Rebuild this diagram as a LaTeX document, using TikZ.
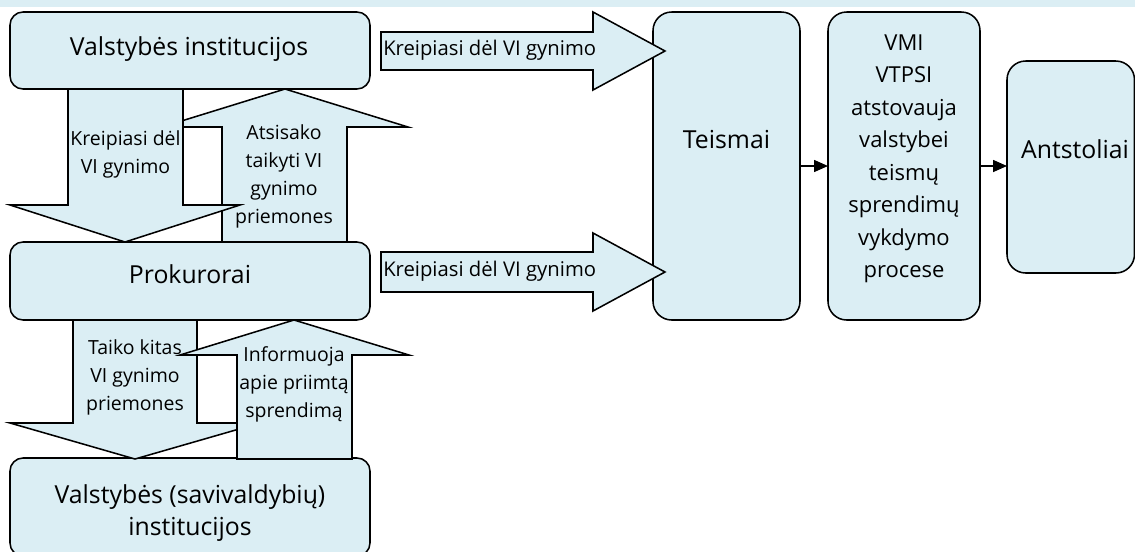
\documentclass[tikz,border=0pt]{standalone}
\usepackage{fontspec}
\setmainfont{Open Sans}
\usetikzlibrary{arrows.meta,fit}
\definecolor{boxblue}{RGB}{219,238,244}
\begin{document}
\begin{tikzpicture}[x=0.75pt,y=-0.75pt,
  box/.style={draw=black, fill=boxblue, line width=1.15pt, rounded corners=9.75pt, inner sep=0pt, outer sep=0pt},
  tallbox/.style={box, rounded corners=14pt},
  blockarrow/.style={draw=black, fill=boxblue, line width=1.15pt, line join=miter},
  bigtext/.style={font=\fontsize{18.6}{24}\selectfont, inner sep=0pt, align=center},
  midtext/.style={font=\fontsize{16.5}{24.4}\selectfont, inner sep=0pt, align=center},
  smalltext/.style={font=\fontsize{14.6}{21}\selectfont, inner sep=0pt, align=center},
  arrowtext/.style={font=\fontsize{15.2}{21}\selectfont, inner sep=0pt},
  conn/.style={line width=1.15pt, -{Triangle[length=10.5pt,width=9pt]}}]
\useasboundingbox (0,0) rectangle (1135,551);
\clip (0,0) rectangle (1135,551);
\fill[boxblue] (0,0) rectangle (1135,7);

% boxes
\node[box, fit={(10,12) (370,89)}] (vi) {};
\node[box, fit={(10,242) (370,320)}] (prok) {};
\node[box, fit={(10,458) (370,556)}] (savi) {};
\node[tallbox, fit={(653,12) (800,320)}] (teismai) {};
\node[tallbox, fit={(828,12) (980,320)}] (vmi) {};
\node[tallbox, fit={(1007,61) (1134.5,273)}] (antst) {};

% block arrows, upper pair
\draw[blockarrow] (285,89) -- (408,127) -- (347,127) -- (347,242) -- (222,242) -- (222,127) -- (162,127) -- cycle;
\draw[blockarrow] (68,89) -- (183,89) -- (183,205) -- (240,205) -- (125,242) -- (10,205) -- (68,205) -- cycle;
% block arrows, lower pair
\draw[blockarrow] (73,320) -- (197,320) -- (197,423) -- (260,423) -- (135,459) -- (10,423) -- (73,423) -- cycle;
\draw[blockarrow] (294,320) -- (409,355) -- (352,355) -- (352,459) -- (237,459) -- (237,355) -- (180,355) -- cycle;
% block arrows to courts
\draw[blockarrow] (381,32) -- (593,32) -- (593,12) -- (665,51) -- (593,90) -- (593,70) -- (381,70) -- cycle;
\draw[blockarrow] (381,252) -- (593,252) -- (593,233) -- (665,272) -- (593,311) -- (593,292) -- (381,292) -- cycle;

% connectors
\draw[conn] (teismai.east) -- (vmi.west);
\draw[conn] (vmi.east) -- (antst.west |- vmi.east);

% texts
\node[bigtext, anchor=base] (tvi) at (189,55) {Valstybės institucijos};
\node[bigtext, anchor=base] (tprok) at (190,283) {Prokurorai};
\node[bigtext] (tsavi) at (190,512.6) {\strut Valstybės (savivaldybių)\\\strut institucijos};
\node[bigtext, anchor=base] (tteis) at (726.5,148) {Teismai};
\node[bigtext, anchor=base] (tant) at (1075,158) {Antstoliai};
\node[midtext] (tvmi) at (904,157.5) {\strut VMI\\\strut VTPSI\\\strut atstovauja\\\strut valstybei\\\strut teismų\\\strut sprendimų\\\strut vykdymo\\\strut procese};

\node[smalltext] (td1) at (125.5,153.4) {\strut Kreipiasi dėl\\\strut VI gynimo};
\node[smalltext] (tu1) at (284,175.9) {\strut Atsisako\\\strut taikyti VI\\\strut gynimo\\\strut priemones};
\node[smalltext] (td2) at (135,376.4) {\strut Taiko kitas\\\strut VI gynimo\\\strut priemones};
\node[smalltext] (tu2) at (294,383.4) {\strut Informuoja\\\strut apie priimtą\\\strut sprendimą};
\node[arrowtext, anchor=base west] (tr1) at (383,55) {Kreipiasi dėl VI gynimo};
\node[arrowtext, anchor=base west] (tr2) at (383,276) {Kreipiasi dėl VI gynimo};
\end{tikzpicture}
\end{document}
